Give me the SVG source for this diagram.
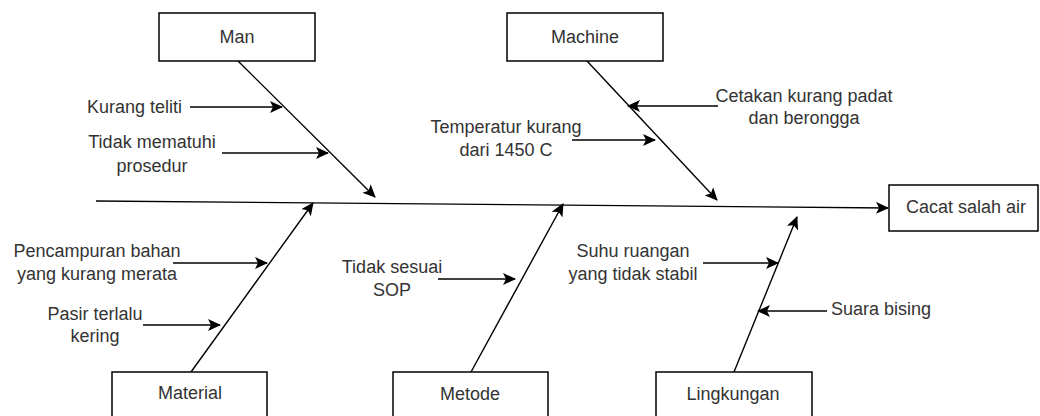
<svg xmlns="http://www.w3.org/2000/svg" width="1040" height="416" viewBox="0 0 1040 416">
<style>
.box{fill:#fff;stroke:#000;stroke-width:1.5}
.ln{fill:none;stroke:#000;stroke-width:1.4}
text{font-family:"Liberation Sans",Arial,sans-serif;font-size:18px;fill:#333}
.c{text-anchor:middle}
</style>
<defs>
<marker id="ah" markerUnits="userSpaceOnUse" markerWidth="14" markerHeight="12" viewBox="0 0 14 12" refX="12" refY="6" orient="auto">
<path d="M0,0 L13,6 L0,12 L3,6 Z" fill="#000"/>
</marker>
</defs>
<rect width="1040" height="416" fill="#fff"/>
<g id="connectors">
<line class="ln" x1="96" y1="201" x2="888" y2="208" marker-end="url(#ah)"/>
<line class="ln" x1="238" y1="61" x2="375" y2="197" marker-end="url(#ah)"/>
<line class="ln" x1="587" y1="61" x2="717" y2="200" marker-end="url(#ah)"/>
<line class="ln" x1="191" y1="372" x2="313" y2="203" marker-end="url(#ah)"/>
<line class="ln" x1="471" y1="372" x2="563" y2="204" marker-end="url(#ah)"/>
<line class="ln" x1="734" y1="372" x2="797" y2="217" marker-end="url(#ah)"/>
<line class="ln" x1="190" y1="107" x2="282" y2="107" marker-end="url(#ah)"/>
<line class="ln" x1="222" y1="153" x2="328" y2="153" marker-end="url(#ah)"/>
<line class="ln" x1="718" y1="106" x2="628" y2="106" marker-end="url(#ah)"/>
<line class="ln" x1="572" y1="140" x2="655" y2="140" marker-end="url(#ah)"/>
<line class="ln" x1="173" y1="263" x2="267" y2="263" marker-end="url(#ah)"/>
<line class="ln" x1="143" y1="325" x2="220" y2="325" marker-end="url(#ah)"/>
<line class="ln" x1="438" y1="279" x2="515" y2="279" marker-end="url(#ah)"/>
<line class="ln" x1="703" y1="263" x2="778" y2="263" marker-end="url(#ah)"/>
<line class="ln" x1="827" y1="311" x2="758" y2="311" marker-end="url(#ah)"/>
</g>
<g id="man"><rect class="box" x="159" y="13" width="156" height="48"/><text class="c" x="237" y="43">Man</text></g>
<g id="machine"><rect class="box" x="507" y="13" width="156" height="48"/><text class="c" x="585" y="43">Machine</text></g>
<g id="material"><rect class="box" x="112" y="372" width="155" height="48"/><text class="c" x="190" y="399">Material</text></g>
<g id="metode"><rect class="box" x="393" y="372" width="155" height="48"/><text class="c" x="470" y="400">Metode</text></g>
<g id="lingkungan"><rect class="box" x="656" y="372" width="156" height="48"/><text class="c" x="733" y="400">Lingkungan</text></g>
<g id="cacat"><rect class="box" x="889" y="185" width="149" height="46"/><text class="c" x="966" y="213">Cacat salah air</text></g>
<g id="kurang-teliti"><text x="87" y="113">Kurang teliti</text></g>
<g id="tidak-mematuhi"><text class="c" x="152" y="148">Tidak mematuhi</text><text class="c" x="152" y="172">prosedur</text></g>
<g id="temperatur"><text class="c" x="506" y="133">Temperatur kurang</text><text class="c" x="506" y="156">dari 1450 C</text></g>
<g id="cetakan"><text class="c" x="804" y="102">Cetakan kurang padat</text><text class="c" x="804" y="124">dan berongga</text></g>
<g id="pencampuran"><text class="c" x="97" y="257">Pencampuran bahan</text><text class="c" x="97" y="280">yang kurang merata</text></g>
<g id="pasir"><text class="c" x="95" y="320">Pasir terlalu</text><text class="c" x="95" y="342">kering</text></g>
<g id="tidak-sesuai"><text class="c" x="392" y="273">Tidak sesuai</text><text class="c" x="392" y="296">SOP</text></g>
<g id="suhu"><text class="c" x="633" y="257">Suhu ruangan</text><text class="c" x="633" y="280">yang tidak stabil</text></g>
<g id="suara"><text x="831" y="315">Suara bising</text></g>
</svg>
